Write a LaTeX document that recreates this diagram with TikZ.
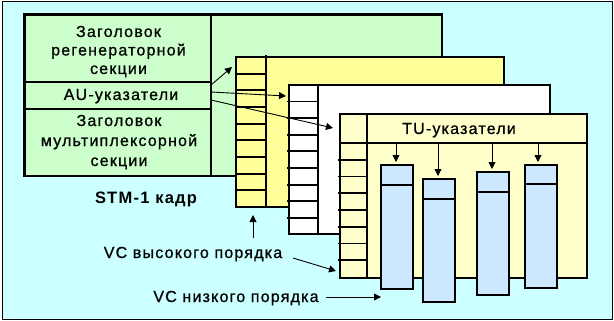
\documentclass[tikz,border=0pt]{standalone}
\usepackage{fontspec}
\setmainfont{Liberation Sans}[LetterSpace=7.5,FakeBold=0.8,BoldFeatures={FakeBold=0}]
\usetikzlibrary{arrows.meta}
\definecolor{bgc}{HTML}{CCFFFF}
\definecolor{grn}{HTML}{CCFFCC}
\definecolor{yel}{HTML}{FFFF99}
\definecolor{lyel}{HTML}{FFFFCC}
\definecolor{blu}{HTML}{CCE8FF}
\begin{document}
\begin{tikzpicture}[x=1pt,y=-1pt,
  frame/.style={line width=2.8pt, draw=black},
  sep/.style={line width=1.8pt},
  arr/.style={line width=0.9pt,-{Triangle[length=7pt,width=7pt]}},
  lbl/.style={font=\fontsize{16}{18.5}\selectfont, align=center, inner sep=0pt, anchor=base},
  colbox/.style={frame, fill=blu}]
\useasboundingbox (0,0) rectangle (614,321);
\draw[fill=bgc, line width=1pt] (2,2) rectangle (612,319);
% STM-1 frame
\draw[frame, fill=grn] (24.5,14.5) rectangle (442,176);
\draw[sep] (211,14.5) -- (211,176);
\draw[sep] (24.5,82) -- (211,82);
\draw[sep] (24.5,109) -- (211,109);
% high order VC (yellow)
\draw[frame, fill=yel] (236,57) rectangle (504,207);
\draw[sep] (266,55) -- (266,207);
\foreach \k in {1,...,8} \draw[sep] (236,{57+\k*16.667}) -- (266,{57+\k*16.667});
% white frame
\draw[frame, fill=white] (289,85) rectangle (550,234);
\draw[sep] (318,85) -- (318,234);
\foreach \k in {1,...,8} \draw[sep] (287,{85+\k*16.6}) -- (318,{85+\k*16.6});
% light yellow frame
\draw[frame, fill=lyel] (340,114) rectangle (587,278);
\draw[sep] (367,114) -- (367,278);
\draw[sep] (340,143) -- (587,143);
\foreach \k in {1,...,7} \draw[sep] (338,{143+\k*16.75}) -- (367,{143+\k*16.75});
% low order VC columns
\draw[colbox] (381,165) rectangle (413,289);
\draw[sep] (381,185) -- (413,185);
\draw[colbox] (423,179) rectangle (455,302);
\draw[sep] (423,199) -- (455,199);
\draw[colbox] (477,172) rectangle (509,295);
\draw[sep] (477,192) -- (509,192);
\draw[colbox] (525,165) rectangle (557,288);
\draw[sep] (525,184) -- (557,184);
% texts
\node[lbl] (rsoh) at (118.5,74) {Заголовок\\регенераторной\\секции};
\node[lbl] (au) at (121,100) {AU-указатели};
\node[lbl, font=\fontsize{16}{20}\selectfont] (msoh) at (119,166) {Заголовок\\мультиплексорной\\секции};
\node[lbl, font=\fontsize{16.5}{18.5}\selectfont\bfseries] (stm) at (146,203) {STM-1 кадр};
\node[lbl] (tu) at (459,134) {TU-указатели};
\node[lbl] (vchi) at (193,258) {VC высокого порядка};
\node[lbl] (vclo) at (236,302) {VC низкого порядка};
% coordinates
\coordinate (au1) at (211,85);
\coordinate (au2) at (211,92);
\coordinate (au3) at (211,100);
\coordinate (t1) at (232,67);
\coordinate (t2) at (286,96);
\coordinate (t3) at (333,128);
\coordinate (hiS) at (253,238);
\coordinate (hiE) at (253,215);
\coordinate (hdS) at (293,258);
\coordinate (hdE) at (336,271);
\coordinate (loS) at (326,297);
\coordinate (loE) at (381,297);
\coordinate (tu1s) at (396,143); \coordinate (tu1e) at (396,162);
\coordinate (tu2s) at (438,143); \coordinate (tu2e) at (438,176);
\coordinate (tu3s) at (492,143); \coordinate (tu3e) at (492,169);
\coordinate (tu4s) at (538,143); \coordinate (tu4e) at (538,162);
% arrows
\draw[arr] (au1) -- (t1);
\draw[arr] (au2) -- (t2);
\draw[arr] (au3) -- (t3);
\draw[arr] (hiS) -- (hiE);
\draw[arr] (hdS) -- (hdE);
\draw[arr] (loS) -- (loE);
\draw[arr] (tu1s) -- (tu1e);
\draw[arr] (tu2s) -- (tu2e);
\draw[arr] (tu3s) -- (tu3e);
\draw[arr] (tu4s) -- (tu4e);
\end{tikzpicture}
\end{document}
